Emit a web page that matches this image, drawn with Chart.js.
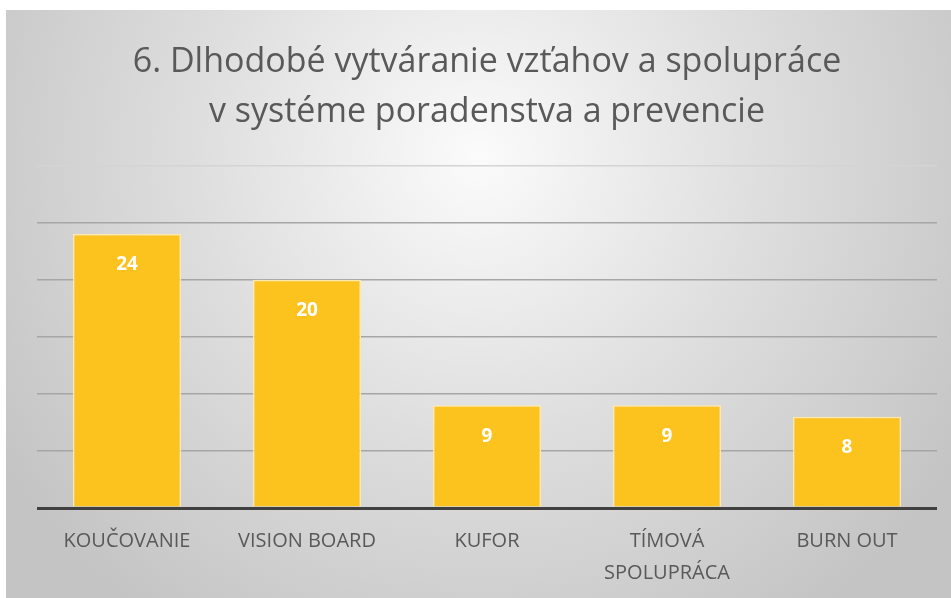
<!DOCTYPE html>
<html>
<head>
<meta charset="utf-8">
<script src="https://cdn.jsdelivr.net/npm/chart.js@4"></script>
<style>
  html, body { margin: 0; padding: 0; background: #ffffff; }
  #wrap { position: absolute; left: 6px; top: 10px; width: 945px; height: 588px; }
</style>
</head>
<body>
<div id="wrap"><canvas id="chart"></canvas></div>
<script>
const categories = ['KOUČOVANIE', 'VISION BOARD', 'KUFOR', ['TÍMOVÁ', 'SPOLUPRÁCA'], 'BURN OUT'];
const counts = [24, 20, 9, 9, 8];
const titleLines = ['6. Dlhodobé vytváranie vzťahov a spolupráce', 'v systéme poradenstva a prevencie'];

const backgroundPlugin = {
  id: 'radialBackground',
  beforeDraw(chart) {
    const { ctx, width, height } = chart;
    const g = ctx.createRadialGradient(width * 0.5, height * 0.25, 0, width * 0.5, height * 0.25, width * 0.6);
    g.addColorStop(0, '#fbfbfb');
    g.addColorStop(0.5, '#dedede');
    g.addColorStop(1, '#c4c4c4');
    ctx.save();
    ctx.fillStyle = g;
    ctx.fillRect(0, 0, width, height);
    ctx.restore();
  }
};

const valueLabelPlugin = {
  id: 'valueLabels',
  afterDatasetsDraw(chart) {
    const { ctx } = chart;
    const meta = chart.getDatasetMeta(0);
    ctx.save();
    ctx.fillStyle = '#ffffff';
    ctx.font = 'bold 19px "Open Sans", sans-serif';
    ctx.textAlign = 'center';
    ctx.textBaseline = 'middle';
    meta.data.forEach((bar, i) => {
      ctx.fillText(String(counts[i]), bar.x, bar.y + 31);
    });
    ctx.restore();
  }
};

new Chart(document.getElementById('chart'), {
  type: 'bar',
  data: {
    labels: categories,
    datasets: [{
      data: counts,
      backgroundColor: '#fcc31e',
      borderColor: '#ffe9a8',
      borderWidth: 1.5,
      categoryPercentage: 0.6,
      barPercentage: 1
    }]
  },
  options: {
    responsive: true,
    maintainAspectRatio: false,
    animation: false,
    layout: { padding: { left: 31, right: 14, top: 0, bottom: 10 } },
    plugins: {
      legend: { display: false },
      tooltip: { enabled: false },
      title: {
        display: true,
        text: titleLines,
        color: '#595959',
        font: { family: '"Open Sans", sans-serif', size: 34, weight: 'normal', lineHeight: 1.45 },
        padding: { top: 28, bottom: 29 }
      }
    },
    scales: {
      x: {
        afterFit: (axis) => { axis.height = 80; },
        grid: { display: false },
        border: { display: false },
        ticks: {
          color: '#595959',
          font: { family: '"Open Sans", sans-serif', size: 20, lineHeight: 1.6 },
          padding: 9,
          maxRotation: 0
        }
      },
      y: {
        min: 0,
        max: 30,
        ticks: { display: false, stepSize: 5 },
        border: { display: false },
        grid: {
          drawTicks: false,
          color: (c) => c.tick.value === 0 ? '#404040' : (c.tick.value === 30 ? '#d4d4d4' : '#a6a6a6'),
          lineWidth: (c) => c.tick.value === 0 ? 3 : 1.5
        }
      }
    }
  },
  plugins: [backgroundPlugin, valueLabelPlugin]
});
</script>
</body>
</html>
